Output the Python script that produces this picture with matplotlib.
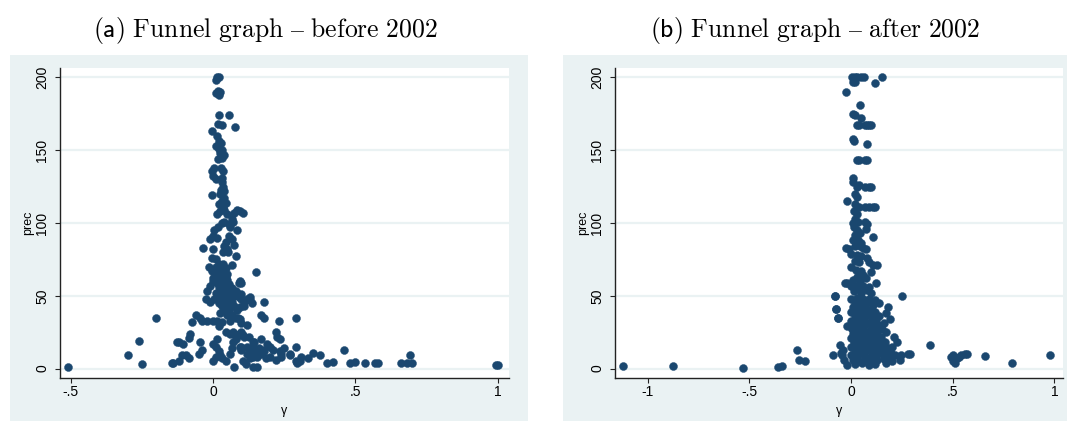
import matplotlib
matplotlib.use("Agg")
import matplotlib.pyplot as plt
from matplotlib.patches import Rectangle

plt.rcParams["font.family"] = ["Liberation Sans", "DejaVu Sans"]
plt.rcParams["mathtext.fontset"] = "cm"

# (gamma, prec) estimates, studies published before 2002
before_points = [
    (0.015, 200), (0.022, 200), (0.012, 198), (0.018, 191), (0.025, 190), (0.012, 189), (0.02, 188),
    (0.022, 174), (0.055, 174), (0.018, 168), (0.03, 167), (0.077, 166), (-0.005, 163), (0.015, 160),
    (0.02, 156), (0.028, 155), (0.012, 153), (0.02, 151), (0.032, 150), (0.025, 148), (0.038, 147),
    (0.03, 145), (0.018, 144), (0.005, 138), (0.028, 138), (-0.003, 136), (0.035, 136), (0.0, 132),
    (0.01, 130), (0.032, 131), (0.03, 128), (0.035, 125), (0.028, 123), (0.04, 122), (0.025, 120),
    (-0.005, 119), (0.038, 117), (0.03, 115), (0.045, 114), (0.02, 113), (0.035, 111), (0.04, 109),
    (0.025, 108), (0.015, 106), (0.05, 106), (0.075, 107), (0.085, 109), (0.095, 108), (0.105, 107),
    (0.065, 103), (0.07, 101), (0.04, 101), (0.03, 100), (0.055, 99), (0.06, 97),
    (0.018, 97), (0.005, 95), (0.085, 95), (0.0, 91), (0.015, 90), (-0.01, 89), (0.055, 91),
    (0.065, 89), (0.045, 87), (0.04, 84), (0.048, 82), (0.052, 80), (0.035, 80), (-0.035, 83),
    (0.0, 82), (0.075, 85), (0.08, 77), (-0.005, 76), (0.01, 75), (0.065, 71), (-0.015, 70),
    (-0.005, 67), (0.01, 65), (0.02, 66), (0.03, 67), (0.04, 66), (0.045, 63), (0.025, 62),
    (0.035, 60), (0.05, 61), (0.015, 59), (0.0, 60), (-0.01, 57), (-0.02, 53), (0.02, 56),
    (0.03, 55), (0.055, 56), (0.065, 55), (0.09, 59), (0.1, 59), (0.15, 66), (0.08, 53),
    (0.075, 50), (0.04, 53), (0.01, 52), (0.0, 62), (0.01, 70), (0.02, 72), (0.035, 72),
    (0.045, 69), (0.05, 65), (0.055, 58), (0.06, 52), (0.04, 57), (0.03, 52), (0.015, 48),
    (0.025, 50), (0.05, 50), (0.035, 46), (0.05, 37), (0.04, 40), (0.025, 38), (0.06, 42),
    (-0.025, 48), (-0.01, 46), (0.005, 48), (0.02, 45), (0.03, 43), (0.045, 47), (0.05, 44),
    (0.06, 49), (0.065, 46), (0.075, 43), (0.09, 49), (0.1, 48), (0.11, 46), (0.12, 48),
    (0.13, 47), (0.11, 43), (0.18, 46), (0.085, 40), (0.055, 40), (0.065, 37), (0.08, 35),
    (0.095, 34), (0.1, 31), (0.095, 60), (0.1, 51), (0.13, 49), (0.137, 45), (0.095, 42),
    (0.088, 35), (0.12, 30), (0.07, 25), (0.09, 24), (0.105, 23), (0.125, 22), (0.14, 18),
    (0.1, 14.5), (0.12, 15), (0.137, 12.5), (0.13, 7.5), (0.155, 8), (0.165, 11), (0.175, 13),
    (-0.06, 37), (-0.045, 35), (-0.04, 33), (-0.02, 33), (0.0, 33), (0.015, 33), (0.03, 32),
    (0.02, 29), (0.06, 33), (0.045, 25), (0.06, 24), (0.075, 24), (0.09, 23), (0.1, 25),
    (0.11, 22), (0.17, 37), (0.18, 35), (0.23, 33), (0.29, 35), (-0.075, 32), (-0.08, 24),
    (-0.085, 21), (-0.125, 18.5), (-0.105, 17), (-0.045, 18), (-0.04, 13), (-0.05, 10),
    (-0.145, 3.5), (-0.12, 5.5), (-0.085, 7.5), (-0.095, 9), (-0.11, 9),
    (0.0, 17), (0.01, 15), (0.015, 20), (0.02, 12), (0.025, 9), (0.0, 5), (0.01, 8), (0.03, 7.5),
    (0.045, 5), (0.06, 10), (0.065, 14), (0.07, 18), (0.08, 20), (0.085, 23), (0.095, 15),
    (0.1, 13), (0.105, 5.5), (0.115, 3), (0.12, 10), (0.13, 12.5), (0.14, 15), (0.145, 18),
    (0.155, 1), (0.074, 1.4), (0.14, 8), (0.15, 11), (0.16, 14), (0.17, 20), (0.19, 17),
    (0.2, 15), (0.21, 12.5), (0.22, 25), (0.225, 22), (0.235, 20), (0.235, 12), (0.25, 14),
    (0.27, 9.6), (0.29, 14.5), (0.29, 5.5), (0.305, 5.5), (0.31, 8), (0.335, 7.5), (0.35, 11),
    (0.375, 9.6), (0.4, 4), (0.42, 4.5), (0.46, 12.5), (0.48, 4), (0.5, 4.5), (0.535, 4),
    (0.57, 4), (0.58, 4), (0.66, 3.5), (0.68, 3.5), (0.7, 3.5), (0.69, 9), (0.995, 2.5),
    (1.0, 2.5), (0.14, 1.4), (0.17, 10), (0.18, 12), (0.185, 7), (0.2, 8), (0.22, 6), (0.24, 8),
    (0.24, 10), (0.27, 10), (0.295, 4),
    (-0.51, 1), (-0.30, 9), (-0.26, 19), (-0.25, 3), (-0.2, 34.5), (-0.14, 3.5), (-0.12, 18.5),
]

# (gamma, prec) estimates, studies published after 2002
after_points = [
    (0.005, 200), (0.02, 200), (0.03, 200), (0.05, 200), (0.065, 200), (0.15, 200), (0.01, 197),
    (0.02, 197), (0.12, 196), (-0.025, 190), (0.045, 181), (0.01, 175), (0.02, 174), (0.05, 172),
    (0.03, 167), (0.04, 167), (0.07, 167), (0.08, 167), (0.09, 167), (0.1, 167), (0.01, 158),
    (0.015, 156), (0.08, 154), (0.03, 143), (0.04, 143), (0.07, 143), (0.08, 143), (0.01, 131),
    (0.01, 128), (0.03, 125), (0.04, 126), (0.07, 125), (0.09, 125), (0.1, 125), (0.02, 120),
    (-0.02, 115), (0.03, 118), (0.02, 113), (0.04, 111), (0.07, 111), (0.09, 111), (0.11, 111),
    (0.12, 111),
    (0.015, 108), (0.03, 106), (0.02, 103), (0.01, 100), (0.035, 101), (0.015, 97), (0.03, 95),
    (0.08, 99), (0.07, 101), (0.075, 96), (0.02, 92), (0.045, 93), (0.11, 90.5), (0.01, 88),
    (0.035, 88), (0.05, 86), (-0.025, 83), (-0.01, 82), (0.02, 84), (0.045, 84), (0.06, 83),
    (0.075, 82), (0.0, 79), (0.03, 78), (0.05, 77), (0.08, 76), (0.02, 74), (0.04, 73),
    (0.09, 73), (0.11, 71), (0.13, 71), (0.0, 70), (0.025, 68), (0.05, 67), (0.1, 66.5),
    (0.03, 63), (0.06, 64), (0.075, 62), (0.01, 61), (0.045, 60), (-0.03, 59), (-0.02, 59),
    (0.125, 58.5), (0.0, 57), (0.02, 57), (0.06, 57), (0.09, 56), (0.03, 55), (0.08, 54),
    (0.015, 53), (0.05, 52), (0.1, 52), (-0.08, 50), (0.25, 49.5),
    (0.0, 48), (0.03, 48.5), (0.06, 47.5), (0.09, 48), (0.12, 47),
    (0.02, 45), (0.05, 44.5), (0.08, 45.5), (0.11, 44), (0.14, 45),
    (-0.075, 41), (0.01, 42), (0.04, 41.5), (0.07, 42.5), (0.1, 41), (0.18, 42),
    (0.0, 39), (0.03, 38.5), (0.06, 39.5), (0.09, 38), (0.12, 39), (0.17, 38),
    (0.02, 36), (0.05, 35.5), (0.08, 36.5), (0.11, 35), (0.14, 36), (-0.065, 35),
    (0.0, 33), (0.035, 32.5), (0.065, 33.5), (0.095, 32), (0.125, 33), (0.19, 34),
    (0.015, 30), (0.045, 29.5), (0.075, 30.5), (0.105, 29), (0.135, 30), (0.16, 31),
    (-0.02, 29), (0.005, 27), (0.03, 26.5), (0.06, 27.5), (0.09, 26), (0.12, 27), (0.15, 27.5),
    (0.01, 24), (0.04, 23.5), (0.07, 24.5), (0.1, 23), (0.13, 24), (0.17, 25),
    (0.0, 21), (0.025, 20.5), (0.055, 21.5), (0.085, 20), (0.115, 21), (0.145, 21.5), (0.21, 22),
    (0.015, 18), (0.045, 17.5), (0.075, 18.5), (0.105, 17), (0.135, 18), (0.165, 18.5),
    (0.225, 18), (-0.055, 16), (0.0, 15), (0.03, 14.5), (0.06, 15.5), (0.09, 14), (0.12, 15),
    (0.15, 15.5), (0.18, 14), (0.2, 15), (0.02, 12), (0.05, 11.5), (0.08, 12.5), (0.11, 11),
    (0.14, 12), (0.17, 12.5), (0.195, 11), (-0.05, 11), (-0.04, 13), (0.0, 9), (0.03, 8.5),
    (0.065, 9.5), (0.095, 8), (0.125, 9), (0.155, 9.5), (0.185, 8), (0.215, 9), (0.245, 9.5),
    (0.28, 10), (0.29, 10), (-0.09, 9.6), (-0.045, 9), (0.01, 6), (0.04, 5.5), (0.07, 6.5),
    (0.1, 5), (0.13, 6), (0.16, 6.5), (0.2, 5), (0.24, 6), (-0.035, 6), (0.02, 3),
    (0.055, 3.5), (0.09, 2.5), (0.12, 3), (0.17, 3.5), (-0.02, 2.7),
    (0.39, 16), (0.49, 8), (0.5, 5), (0.51, 4), (0.52, 7), (0.5, 9), (0.53, 8), (0.54, 9.6),
    (0.56, 10), (0.57, 10), (0.66, 8.5), (0.79, 4), (0.98, 9),
    (-1.12, 2), (-0.875, 2), (-0.53, 0.3), (-0.36, 1.4), (-0.34, 2), (-0.265, 13), (-0.255, 6),
    (-0.225, 5), (-0.08, 50), (-0.075, 41), (-0.065, 35),
]

before_ticks = [-0.5, 0, 0.5, 1]
before_ticklabels = ["-.5", "0", ".5", "1"]
after_ticks = [-1, -0.5, 0, 0.5, 1]
after_ticklabels = ["-1", "-.5", "0", ".5", "1"]
prec_ticks = [0, 50, 100, 150, 200]

W, H = 1067, 421
NAVY = "#1a476f"
BG = "#eaf2f3"

fig = plt.figure(figsize=(W / 100, H / 100), dpi=100)
fig.patch.set_facecolor("white")

# outer graph regions, drawn beneath the axes
for x0, x1 in [(10, 528), (563, 1067)]:
    fig.add_artist(Rectangle((x0 / W, 0), (x1 - x0) / W, (H - 55) / H,
                             transform=fig.transFigure, facecolor=BG,
                             edgecolor="none", zorder=-5))

panels = [
    (before_points, (60, 509), (-0.537, 1.039), before_ticks, before_ticklabels,
     r"$\mathsf{(a)}\ \mathrm{Funnel\ graph\ {–}\ before\ 2002}$", 265),
    (after_points, (615, 1063), (-1.16, 1.042), after_ticks, after_ticklabels,
     r"$\mathsf{(b)}\ \mathrm{Funnel\ graph\ {–}\ after\ 2002}$", 815),
]

for pts, (px0, px1), xlim, xt, xtl, title, tx in panels:
    ax = fig.add_axes([px0 / W, (H - 378) / H, (px1 - px0) / W, (378 - 68) / H])
    ax.set_zorder(1)
    ax.set_facecolor("white")
    xs = [p[0] for p in pts]
    ys = [p[1] for p in pts]
    ax.scatter(xs, ys, s=33, color=NAVY, edgecolors=NAVY, linewidths=0.3, zorder=3)
    ax.set_xlim(*xlim)
    ax.set_ylim(-6.5, 206.5)
    ax.set_yticks(prec_ticks)
    ax.set_yticklabels([str(v) for v in prec_ticks], rotation=90, va="center")
    ax.set_xticks(xt)
    ax.set_xticklabels(xtl)
    for v in prec_ticks:
        ax.axhline(v, color=BG, lw=1.6, zorder=1)
    for s in ["top", "right"]:
        ax.spines[s].set_visible(False)
    for s in ["left", "bottom"]:
        ax.spines[s].set_linewidth(1.0)
        ax.spines[s].set_color("#222222")
    ax.tick_params(axis="both", direction="out", length=3.6, width=0.8,
                   colors="#222222", labelsize=10, labelcolor="black")
    ax.tick_params(axis="x", pad=1.5)
    ax.tick_params(axis="y", pad=4)
    ax.set_ylabel("prec", fontsize=9, labelpad=1)
    ax.set_xlabel("γ", fontsize=9, labelpad=4)
    fig.text(tx / W, 1 - 30 / H, title, ha="center", va="center", fontsize=18.5,
             family="DejaVu Sans")

fig.savefig("out.png", dpi=100)
